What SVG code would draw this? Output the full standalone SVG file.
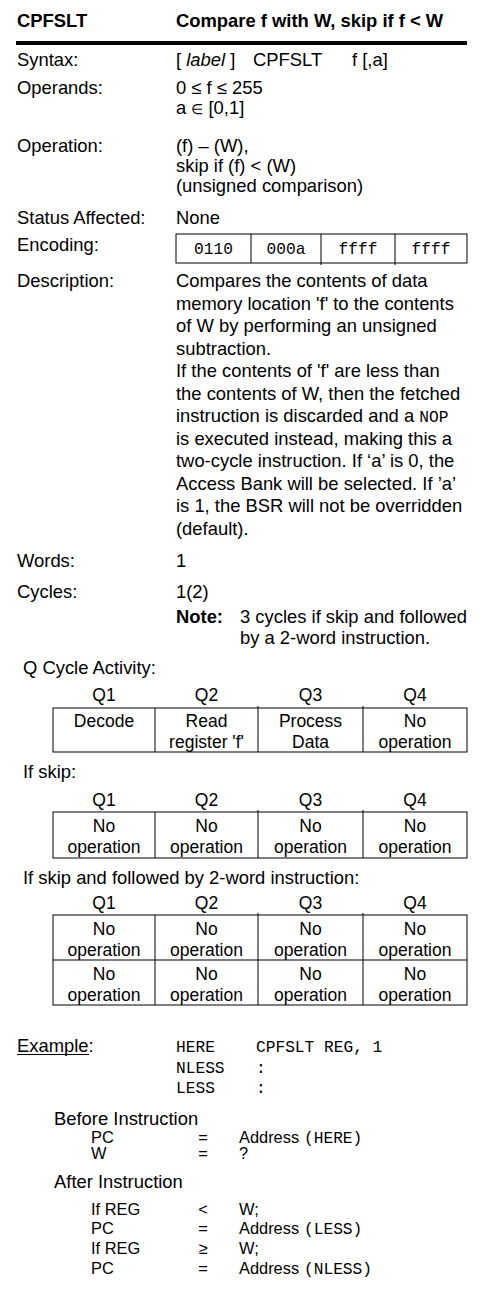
<svg xmlns="http://www.w3.org/2000/svg" width="490" height="1294" viewBox="0 0 490 1294">
<style>
text{font-family:"Liberation Sans",Arial,sans-serif;font-size:18.4px;fill:#000}
.b{font-weight:bold}
.i{font-style:italic}
.m{font-family:"Liberation Mono","Courier New",monospace;font-size:16.2px}
.t{font-size:17.5px;text-anchor:middle}
.s{font-size:16.4px}
.ln{stroke:#000;stroke-width:1;fill:none}
</style>
<rect width="490" height="1294" fill="#fff"/>
<g id="header">
<text x="17" y="27" class="b">CPFSLT</text>
<text x="176" y="27" class="b">Compare f with W, skip if f &lt; W</text>
<rect x="16" y="41" width="451" height="4" fill="#000"/>
</g>
<g id="syntax">
<text x="17" y="66">Syntax:</text>
<text x="176" y="66">[ <tspan class="i">label</tspan> ]</text>
<text x="253" y="66">CPFSLT</text>
<text x="352" y="66">f [,a]</text>
</g>
<g id="operands">
<text x="17" y="94">Operands:</text>
<text x="176" y="94">0 ≤ f ≤ 255</text>
<text x="176" y="114">a <tspan font-size="14">∈</tspan> [0,1]</text>
</g>
<g id="operation">
<text x="17" y="152">Operation:</text>
<text x="176" y="152">(f) – (W),</text>
<text x="176" y="172">skip if (f) &lt; (W)</text>
<text x="176" y="192">(unsigned comparison)</text>
</g>
<g id="status">
<text x="17" y="224">Status Affected:</text>
<text x="176" y="224">None</text>
</g>
<g id="encoding">
<text x="17" y="251">Encoding:</text>
<rect x="176" y="234" width="291" height="29" class="ln"/>
<line x1="251" y1="234" x2="251" y2="263" class="ln"/>
<line x1="321" y1="234" x2="321" y2="265" class="ln"/>
<line x1="395" y1="234" x2="395" y2="265" class="ln"/>
<text x="213.5" y="254" class="m" text-anchor="middle">0110</text>
<text x="286" y="254" class="m" text-anchor="middle">000a</text>
<text x="358" y="254" class="m" text-anchor="middle">ffff</text>
<text x="431" y="254" class="m" text-anchor="middle">ffff</text>
</g>
<g id="description">
<text x="17" y="287">Description:</text>
<text x="176" y="287">Compares the contents of data</text>
<text x="176" y="309.5">memory location 'f' to the contents</text>
<text x="176" y="332">of W by performing an unsigned</text>
<text x="176" y="354.5">subtraction.</text>
<text x="176" y="377">If the contents of 'f' are less than</text>
<text x="176" y="399.5">the contents of W, then the fetched</text>
<text x="176" y="422">instruction is discarded and a <tspan class="m">NOP</tspan></text>
<text x="176" y="444.5">is executed instead, making this a</text>
<text x="176" y="467">two-cycle instruction. If ‘a’ is 0, the</text>
<text x="176" y="489.5">Access Bank will be selected. If ’a’</text>
<text x="176" y="512">is 1, the BSR will not be overridden</text>
<text x="176" y="534.5">(default).</text>
</g>
<g id="words">
<text x="17" y="567">Words:</text>
<text x="176" y="567">1</text>
</g>
<g id="cycles">
<text x="17" y="598">Cycles:</text>
<text x="176" y="598">1(2)</text>
<text x="176" y="623" class="b">Note:</text>
<text x="240" y="623">3 cycles if skip and followed</text>
<text x="240" y="644">by a 2-word instruction.</text>
</g>
<g id="qcycle">
<text x="23" y="674">Q Cycle Activity:</text>
<text x="104" y="701" class="t">Q1</text>
<text x="206.5" y="701" class="t">Q2</text>
<text x="310.5" y="701" class="t">Q3</text>
<text x="415" y="701" class="t">Q4</text>
<rect x="53" y="708" width="414" height="44" class="ln"/>
<line x1="155" y1="708" x2="155" y2="752" class="ln"/>
<line x1="258" y1="706" x2="258" y2="752" class="ln"/>
<line x1="363" y1="706" x2="363" y2="752" class="ln"/>
<text x="104" y="727" class="t">Decode</text>
<text x="206.5" y="727" class="t">Read</text>
<text x="206.5" y="748" class="t">register 'f'</text>
<text x="310.5" y="727" class="t">Process</text>
<text x="310.5" y="748" class="t">Data</text>
<text x="415" y="727" class="t">No</text>
<text x="415" y="748" class="t">operation</text>
</g>
<g id="ifskip">
<text x="23" y="778">If skip:</text>
<text x="104" y="806" class="t">Q1</text>
<text x="206.5" y="806" class="t">Q2</text>
<text x="310.5" y="806" class="t">Q3</text>
<text x="415" y="806" class="t">Q4</text>
<rect x="53" y="812" width="414" height="46" class="ln"/>
<line x1="155" y1="812" x2="155" y2="858" class="ln"/>
<line x1="258" y1="810" x2="258" y2="858" class="ln"/>
<line x1="363" y1="810" x2="363" y2="858" class="ln"/>
<text x="104" y="832" class="t">No</text><text x="104" y="853" class="t">operation</text>
<text x="206.5" y="832" class="t">No</text><text x="206.5" y="853" class="t">operation</text>
<text x="310.5" y="832" class="t">No</text><text x="310.5" y="853" class="t">operation</text>
<text x="415" y="832" class="t">No</text><text x="415" y="853" class="t">operation</text>
</g>
<g id="ifskip2">
<text x="23" y="884">If skip and followed by 2-word instruction:</text>
<text x="104" y="909" class="t">Q1</text>
<text x="206.5" y="909" class="t">Q2</text>
<text x="310.5" y="909" class="t">Q3</text>
<text x="415" y="909" class="t">Q4</text>
<rect x="53" y="915" width="414" height="90" class="ln"/>
<line x1="53" y1="960" x2="467" y2="960" class="ln"/>
<line x1="155" y1="915" x2="155" y2="1005" class="ln"/>
<line x1="258" y1="913" x2="258" y2="1005" class="ln"/>
<line x1="363" y1="913" x2="363" y2="1005" class="ln"/>
<text x="104" y="935" class="t">No</text><text x="104" y="956" class="t">operation</text>
<text x="206.5" y="935" class="t">No</text><text x="206.5" y="956" class="t">operation</text>
<text x="310.5" y="935" class="t">No</text><text x="310.5" y="956" class="t">operation</text>
<text x="415" y="935" class="t">No</text><text x="415" y="956" class="t">operation</text>
<text x="104" y="980" class="t">No</text><text x="104" y="1001" class="t">operation</text>
<text x="206.5" y="980" class="t">No</text><text x="206.5" y="1001" class="t">operation</text>
<text x="310.5" y="980" class="t">No</text><text x="310.5" y="1001" class="t">operation</text>
<text x="415" y="980" class="t">No</text><text x="415" y="1001" class="t">operation</text>
</g>
<g id="example">
<text x="17" y="1052">Example:</text>
<line x1="17" y1="1054.5" x2="89" y2="1054.5" class="ln"/>
<text x="176" y="1052" class="m">HERE</text>
<text x="256" y="1052" class="m">CPFSLT REG, 1</text>
<text x="176" y="1073" class="m">NLESS</text>
<text x="256" y="1073" class="m">:</text>
<text x="176" y="1093" class="m">LESS</text>
<text x="256" y="1093" class="m">:</text>
</g>
<g id="before">
<text x="54" y="1125">Before Instruction</text>
<text x="91" y="1143" class="s">PC</text>
<text x="203" y="1143" class="s" text-anchor="middle">=</text>
<text x="239" y="1143" class="s">Address</text>
<text x="304" y="1143" class="m">(HERE)</text>
<text x="91" y="1159" class="s">W</text>
<text x="203" y="1159" class="s" text-anchor="middle">=</text>
<text x="239" y="1159" class="s">?</text>
</g>
<g id="after">
<text x="54" y="1188">After Instruction</text>
<text x="91" y="1215" class="s">If REG</text>
<text x="203" y="1215" class="s" text-anchor="middle">&lt;</text>
<text x="239" y="1215" class="s">W;</text>
<text x="91" y="1234" class="s">PC</text>
<text x="203" y="1234" class="s" text-anchor="middle">=</text>
<text x="239" y="1234" class="s">Address</text>
<text x="304" y="1234" class="m">(LESS)</text>
<text x="91" y="1254" class="s">If REG</text>
<text x="203" y="1254" class="s" text-anchor="middle">≥</text>
<text x="239" y="1254" class="s">W;</text>
<text x="91" y="1274" class="s">PC</text>
<text x="203" y="1274" class="s" text-anchor="middle">=</text>
<text x="239" y="1274" class="s">Address</text>
<text x="304" y="1274" class="m">(NLESS)</text>
</g>
</svg>
